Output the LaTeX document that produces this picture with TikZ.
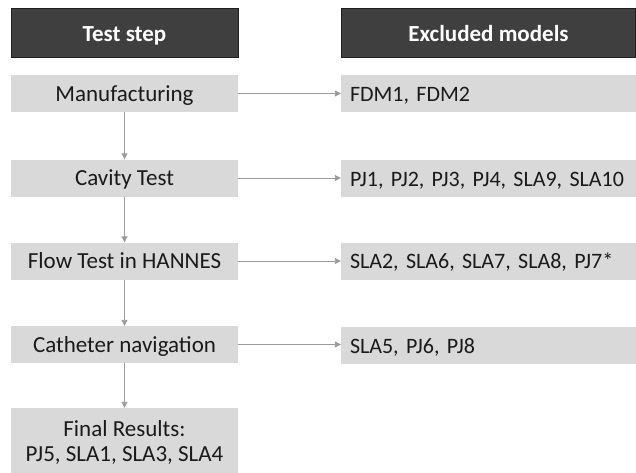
\documentclass[tikz,border=0pt]{standalone}
\usepackage{fontspec}
\setmainfont{Carlito}
\usetikzlibrary{arrows.meta}
\definecolor{headfill}{HTML}{3F3F3F}
\definecolor{headline}{HTML}{1F1F1F}
\definecolor{boxfill}{HTML}{D9D9D9}
\definecolor{linkgray}{HTML}{9A9A9A}
\definecolor{inktext}{HTML}{1A1A1A}
\newcommand{\bodyfont}{\fontsize{23}{25}\selectfont}
\newcommand{\listfont}{\fontsize{22}{25}\selectfont}
\begin{document}
\begin{tikzpicture}[x=1pt,y=1pt,
  headbox/.style={rectangle, fill=headfill, draw=headline, line width=0.8pt,
    text=white, font=\fontsize{23}{26}\selectfont\bfseries, inner sep=0pt,
    minimum height=49pt, text height=21pt, text depth=4pt},
  oneline/.style={text height=19pt, text depth=4pt},
  stepbox/.style={rectangle, fill=boxfill, text=inktext, inner sep=0pt,
    minimum width=227pt, minimum height=37pt, align=center, font=\bodyfont},
  outbox/.style={rectangle, fill=boxfill, text=inktext, inner sep=0pt,
    minimum width=295pt, minimum height=37pt, text width=277pt, align=left,
    font=\listfont, oneline},
  link/.style={draw=linkgray, line width=0.9pt,
    -{Triangle[length=6pt,width=6pt]}}]
\useasboundingbox (0,0) rectangle (636,-472);

% column headers
\node[headbox, minimum width=227pt] (h1) at (124.5,-32.5) {Test step};
\node[headbox, minimum width=294pt] (h2) at (488.5,-32.5) {Excluded models};

% test steps
\node[stepbox, oneline] (s1) at (124.5,-93.5) {Manufacturing};
\node[stepbox, oneline] (s2) at (124.5,-178) {Cavity Test};
\node[stepbox, oneline] (s3) at (124.5,-261) {Flow Test in HANNES};
\node[stepbox, oneline] (s4) at (124.5,-344.5) {Catheter navigation};
% the last box runs past the lower page edge
\node[stepbox, minimum height=69pt] (s5) at (124.5,-442.5) {Final Results:\\PJ5, SLA1, SLA3, SLA4};

% excluded models
\node[outbox] (e1) at (488.5,-93.5) {\mbox{FDM1, FDM2}};
\node[outbox] (e2) at (488.5,-178.5) {\mbox{PJ1, PJ2, PJ3, PJ4, SLA9, SLA10}};
\node[outbox] (e3) at (488.5,-261) {\mbox{SLA2, SLA6, SLA7, SLA8, PJ7*}};
\node[outbox] (e4) at (488.5,-345.5) {\mbox{SLA5, PJ6, PJ8}};

% flow down the steps
\draw[link] (s1) -- (s2);
\draw[link] (s2) -- (s3);
\draw[link] (s3) -- (s4);
\draw[link] (s4) -- (s5);

% exclusions per step
\draw[link] (s1.east) -- (s1.east -| e1.west);
\draw[link] (s2.east) -- (s2.east -| e2.west);
\draw[link] (s3.east) -- (s3.east -| e3.west);
\draw[link] (s4.east) -- (s4.east -| e4.west);
\end{tikzpicture}
\end{document}
